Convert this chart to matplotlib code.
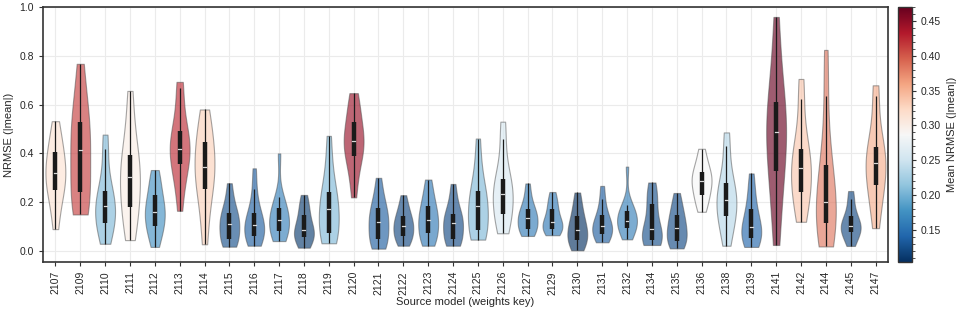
import matplotlib
matplotlib.use("Agg")
import matplotlib.pyplot as plt
import matplotlib.colors as mcolors
import numpy as np

plt.rcParams['font.family'] = ['Liberation Sans', 'DejaVu Sans']

models = ["2107", "2109", "2110", "2111", "2112", "2113", "2114", "2115", "2116", "2117",
          "2118", "2119", "2120", "2121", "2122", "2123", "2124", "2125", "2126", "2127",
          "2129", "2130", "2131", "2132", "2134", "2135", "2136", "2138", "2139", "2141",
          "2142", "2144", "2145", "2147"]

# mean NRMSE per model (drives the colour)
mean_nrmse = [0.315, 0.415, 0.205, 0.300, 0.175, 0.425, 0.330, 0.125, 0.135, 0.160,
              0.112, 0.205, 0.445, 0.135, 0.120, 0.155, 0.122, 0.205, 0.258, 0.158,
              0.155, 0.104, 0.135, 0.160, 0.125, 0.122, 0.287, 0.235, 0.140, 0.470,
              0.338, 0.385, 0.120, 0.355]

# per-run NRMSE samples for each model
nrmse = {
    "2107": [0.09, 0.17, 0.22, 0.252, 0.28, 0.30, 0.32, 0.34, 0.37, 0.406, 0.43, 0.47, 0.532],
    "2109": [0.15, 0.16, 0.20, 0.242, 0.29, 0.35, 0.412, 0.45, 0.49, 0.528, 0.58, 0.66, 0.767],
    "2110": [0.03, 0.07, 0.10, 0.117, 0.14, 0.165, 0.185, 0.20, 0.225, 0.248, 0.30, 0.417, 0.477],
    "2111": [0.045, 0.10, 0.15, 0.18, 0.23, 0.27, 0.304, 0.33, 0.36, 0.394, 0.45, 0.54, 0.656],
    "2112": [0.017, 0.06, 0.085, 0.103, 0.13, 0.15, 0.161, 0.18, 0.20, 0.231, 0.26, 0.30, 0.332],
    "2113": [0.165, 0.26, 0.32, 0.358, 0.39, 0.41, 0.42, 0.44, 0.465, 0.49, 0.55, 0.668, 0.693],
    "2114": [0.028, 0.13, 0.21, 0.256, 0.29, 0.32, 0.344, 0.37, 0.41, 0.445, 0.48, 0.53, 0.58],
    "2115": [0.018, 0.03, 0.04, 0.048, 0.08, 0.10, 0.112, 0.125, 0.14, 0.158, 0.18, 0.22, 0.278],
    "2116": [0.022, 0.04, 0.05, 0.062, 0.08, 0.095, 0.107, 0.12, 0.135, 0.156, 0.19, 0.255, 0.339],
    "2117": [0.041, 0.06, 0.07, 0.083, 0.10, 0.115, 0.127, 0.14, 0.16, 0.176, 0.20, 0.222, 0.40],
    "2118": [0.014, 0.03, 0.045, 0.059, 0.07, 0.08, 0.087, 0.10, 0.125, 0.149, 0.17, 0.20, 0.23],
    "2119": [0.032, 0.045, 0.06, 0.076, 0.11, 0.15, 0.172, 0.19, 0.22, 0.244, 0.29, 0.37, 0.472],
    "2120": [0.22, 0.30, 0.36, 0.39, 0.42, 0.44, 0.449, 0.46, 0.50, 0.53, 0.57, 0.61, 0.647],
    "2121": [0.01, 0.025, 0.035, 0.048, 0.08, 0.105, 0.12, 0.135, 0.155, 0.175, 0.20, 0.24, 0.30],
    "2122": [0.022, 0.04, 0.05, 0.062, 0.08, 0.095, 0.103, 0.115, 0.13, 0.145, 0.165, 0.19, 0.229],
    "2123": [0.022, 0.04, 0.055, 0.073, 0.095, 0.115, 0.128, 0.145, 0.165, 0.186, 0.21, 0.25, 0.293],
    "2124": [0.022, 0.035, 0.04, 0.05, 0.08, 0.10, 0.116, 0.125, 0.14, 0.152, 0.18, 0.22, 0.275],
    "2125": [0.047, 0.06, 0.075, 0.087, 0.12, 0.16, 0.183, 0.20, 0.225, 0.245, 0.29, 0.36, 0.461],
    "2126": [0.073, 0.10, 0.13, 0.153, 0.19, 0.22, 0.234, 0.25, 0.275, 0.296, 0.34, 0.459, 0.53],
    "2127": [0.062, 0.075, 0.085, 0.092, 0.11, 0.125, 0.135, 0.145, 0.16, 0.172, 0.19, 0.23, 0.277],
    "2129": [0.065, 0.075, 0.085, 0.092, 0.10, 0.11, 0.118, 0.13, 0.15, 0.174, 0.19, 0.215, 0.242],
    "2130": [0.003, 0.02, 0.035, 0.045, 0.06, 0.075, 0.088, 0.10, 0.12, 0.142, 0.165, 0.20, 0.24],
    "2131": [0.036, 0.05, 0.06, 0.07, 0.085, 0.095, 0.102, 0.11, 0.125, 0.147, 0.17, 0.213, 0.267],
    "2132": [0.048, 0.07, 0.085, 0.096, 0.11, 0.12, 0.125, 0.135, 0.15, 0.164, 0.18, 0.19, 0.346],
    "2134": [0.025, 0.03, 0.04, 0.045, 0.06, 0.075, 0.09, 0.11, 0.15, 0.191, 0.22, 0.25, 0.281],
    "2135": [0.011, 0.025, 0.035, 0.043, 0.065, 0.08, 0.095, 0.11, 0.13, 0.149, 0.17, 0.20, 0.238],
    "2136": [0.161, 0.19, 0.215, 0.231, 0.255, 0.275, 0.288, 0.30, 0.31, 0.325, 0.35, 0.38, 0.419],
    "2138": [0.022, 0.08, 0.11, 0.142, 0.17, 0.195, 0.209, 0.225, 0.25, 0.277, 0.32, 0.431, 0.486],
    "2139": [0.017, 0.03, 0.045, 0.055, 0.075, 0.09, 0.10, 0.115, 0.145, 0.174, 0.21, 0.26, 0.318],
    "2141": [0.025, 0.15, 0.26, 0.326, 0.39, 0.45, 0.486, 0.52, 0.56, 0.61, 0.68, 0.80, 0.959],
    "2142": [0.12, 0.17, 0.21, 0.241, 0.28, 0.31, 0.339, 0.36, 0.39, 0.42, 0.47, 0.621, 0.705],
    "2144": [0.019, 0.05, 0.08, 0.114, 0.14, 0.17, 0.202, 0.24, 0.30, 0.353, 0.42, 0.636, 0.824],
    "2145": [0.021, 0.045, 0.065, 0.08, 0.09, 0.097, 0.103, 0.11, 0.125, 0.145, 0.17, 0.215, 0.246],
    "2147": [0.094, 0.17, 0.23, 0.269, 0.30, 0.34, 0.36, 0.38, 0.40, 0.428, 0.47, 0.634, 0.679],
}

cmap = plt.get_cmap("RdBu_r")
norm = mcolors.Normalize(vmin=min(mean_nrmse), vmax=max(mean_nrmse))

fig = plt.figure(figsize=(9.61, 3.15), dpi=100)
ax = fig.add_axes([0.0447, 0.168, 0.8793, 0.810])
cax = fig.add_axes([0.9344, 0.168, 0.0146, 0.810])

pos = np.arange(len(models))
data = [nrmse[m] for m in models]
parts = ax.violinplot(data, positions=pos, widths=0.8, showextrema=False)
for body, mv in zip(parts["bodies"], mean_nrmse):
    fc = list(cmap(norm(mv)))
    fc[3] = 0.64
    body.set_alpha(None)
    body.set_facecolor(fc)
    body.set_edgecolor((0.3, 0.3, 0.3, 0.5))
    body.set_linewidth(0.8)
    body.set_zorder(2)

# inner box: whiskers (1.5 IQR), IQR bar, median tick
for x, vals in zip(pos, data):
    v = np.array(vals)
    q1, med, q3 = np.percentile(v, [25, 50, 75])
    iqr = q3 - q1
    lo = v[v >= q1 - 1.5 * iqr].min()
    hi = v[v <= q3 + 1.5 * iqr].max()
    ax.plot([x, x], [lo, hi], color="#1a1a1a", lw=0.9, zorder=3, solid_capstyle="butt")
    ax.plot([x, x], [q1, q3], color="#1a1a1a", lw=3.2, zorder=4, solid_capstyle="butt")
    ax.plot([x - 0.06, x + 0.06], [med, med], color="#d9d9d9", lw=0.9, zorder=5)

ax.set_xlim(-0.5, len(models) - 0.5)
ax.set_ylim(-0.045, 1.0)
ax.set_xticks(pos)
ax.set_xticklabels(models, rotation=90)
ax.set_yticks([0.0, 0.2, 0.4, 0.6, 0.8, 1.0])
ax.set_yticklabels(["0.0", "0.2", "0.4", "0.6", "0.8", "1.0"])
ax.grid(True, color="#ebebeb", lw=0.8, zorder=0)
ax.set_axisbelow(True)
ax.tick_params(labelsize=7.5, length=3, width=0.8, colors="#333333", labelcolor="#262626")
for s in ax.spines.values():
    s.set_color("#333333")
    s.set_linewidth(1.2)
ax.set_xlabel("Source model (weights key)", fontsize=8, color="#262626", labelpad=2)
ax.set_ylabel("NRMSE (|mean|)", fontsize=8, color="#262626", labelpad=4)

sm = plt.cm.ScalarMappable(norm=norm, cmap=cmap)
cb = fig.colorbar(sm, cax=cax)
cb.set_ticks([0.15, 0.20, 0.25, 0.30, 0.35, 0.40, 0.45])
cb.set_ticklabels(["0.15", "0.20", "0.25", "0.30", "0.35", "0.40", "0.45"])
cb.ax.yaxis.set_minor_locator(matplotlib.ticker.MultipleLocator(0.01))
cb.ax.tick_params(which="major", labelsize=7.5, length=3, width=0.8, colors="#333333", labelcolor="#262626")
cb.ax.tick_params(which="minor", length=2, width=0.6, colors="#333333")
cb.outline.set_edgecolor("#333333")
cb.outline.set_linewidth(1.0)
cb.set_label("Mean NRMSE (|mean|)", fontsize=8, color="#262626")

fig.savefig("out.png", dpi=100)
